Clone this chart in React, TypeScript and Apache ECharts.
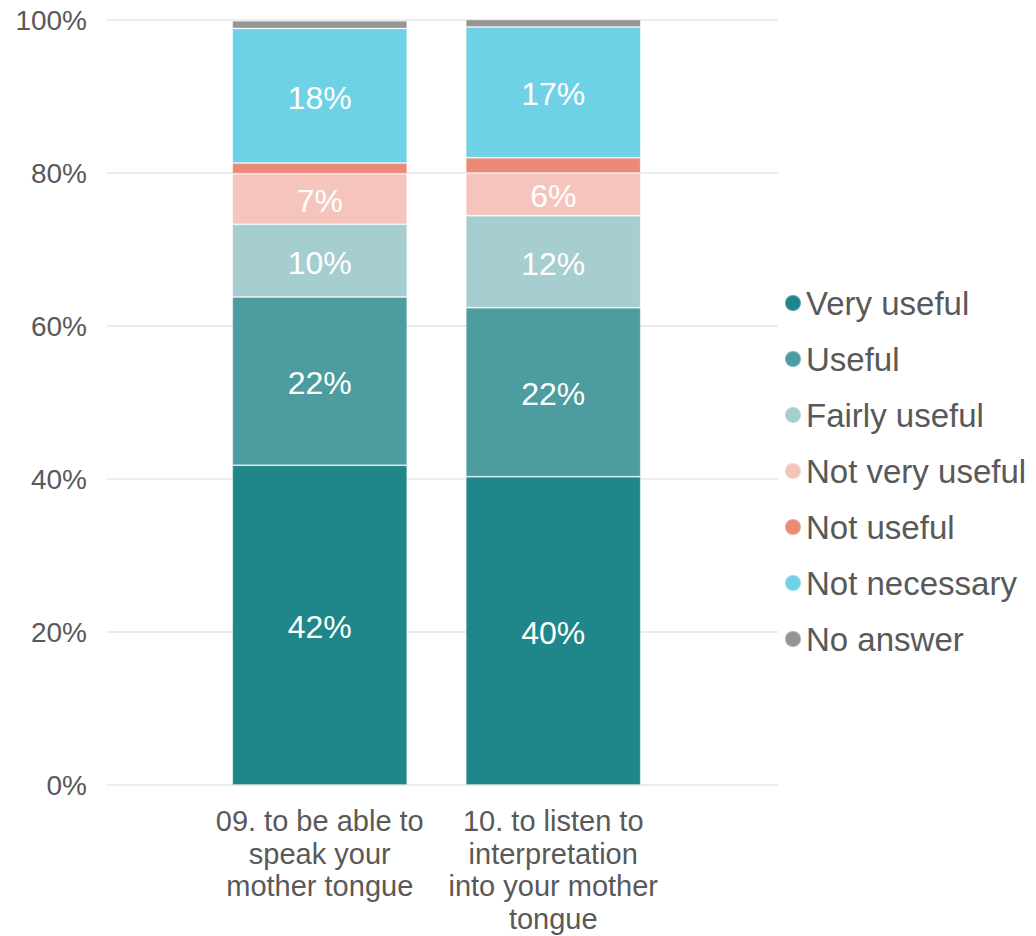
import React, { useEffect, useRef } from "react";
import * as echarts from "echarts";

const categories = [
  "09. to be able to\nspeak your\nmother tongue",
  "10. to listen to\ninterpretation\ninto your mother\ntongue",
];
const seriesNames = [
  "Very useful",
  "Useful",
  "Fairly useful",
  "Not very useful",
  "Not useful",
  "Not necessary",
  "No answer",
];
const veryUseful = [41.8, 40.3];
const useful = [22.0, 22.1];
const fairlyUseful = [9.5, 12.0];
const notVeryUseful = [6.6, 5.6];
const notUseful = [1.4, 2.0];
const notNecessary = [17.6, 17.1];
const noAnswer = [1.0, 1.0];
const seriesValues = [veryUseful, useful, fairlyUseful, notVeryUseful, notUseful, notNecessary, noAnswer];
const colors = ["#1f8789", "#4c9ca0", "#a6cdd0", "#f5c5bd", "#ec8a78", "#6fd1e6", "#959595"];
const yTicks = [0, 20, 40, 60, 80, 100];

const FONT = "'Liberation Sans', Arial, sans-serif";
const TEXT = "#595959";

export default function App() {
  const ref = useRef<HTMLDivElement>(null);
  useEffect(() => {
    document.body.style.margin = "0";
    if (!ref.current) return;
    const chart = echarts.init(ref.current, null, { renderer: "svg" });
    chart.setOption({
      animation: false,
      textStyle: { fontFamily: FONT },
      grid: [
        { left: 203, right: 366, top: 20, bottom: 151 },
        { left: 107, right: 258, top: 20, bottom: 151 },
      ],
      legend: {
        orient: "vertical",
        left: 779,
        top: 278,
        icon: "circle",
        itemWidth: 16,
        itemHeight: 16,
        itemGap: 16,
        data: seriesNames,
        textStyle: { fontSize: 33, lineHeight: 40, color: TEXT, fontFamily: FONT },
      },
      xAxis: [
        {
          type: "category",
          gridIndex: 0,
          data: categories,
          axisLine: { show: false },
          axisTick: { show: false },
          axisLabel: {
            interval: 0,
            margin: 20,
            fontSize: 29,
            lineHeight: 32.5,
            color: TEXT,
            fontFamily: FONT,
          },
        },
        {
          type: "category",
          gridIndex: 1,
          data: [""],
          show: false,
        },
      ],
      yAxis: [
        {
          type: "value",
          gridIndex: 0,
          min: 0,
          max: 100,
          interval: 20,
          show: false,
        },
        {
          type: "value",
          gridIndex: 1,
          min: yTicks[0],
          max: yTicks[yTicks.length - 1],
          interval: 20,
          axisLine: { show: false },
          axisTick: { show: false },
          splitLine: { show: true, lineStyle: { color: "#e6e6e6", width: 1.5 } },
          axisLabel: {
            margin: 20,
            fontSize: 28,
            color: TEXT,
            fontFamily: FONT,
            formatter: (v: number) => v + "%",
          },
        },
      ],
      series: [
        ...seriesNames.map((name, i) => ({
          name,
          type: "bar",
          stack: "total",
          xAxisIndex: 0,
          yAxisIndex: 0,
          barWidth: 175,
          data: seriesValues[i],
          itemStyle: {
            color: colors[i],
            borderColor: "rgba(255,255,255,0.25)",
            borderWidth: 1,
          },
          label: {
            show: true,
            position: "inside",
            color: "#ffffff",
            fontSize: 32,
            fontFamily: FONT,
            offset: [0, 2],
            formatter: (p: any) => (p.value >= 3 ? Math.round(p.value) + "%" : ""),
          },
        })),
        {
          type: "bar",
          xAxisIndex: 1,
          yAxisIndex: 1,
          data: [],
          silent: true,
        },
      ],
    });
    return () => chart.dispose();
  }, []);
  return <div ref={ref} style={{ width: 1036, height: 936 }} />;
}
